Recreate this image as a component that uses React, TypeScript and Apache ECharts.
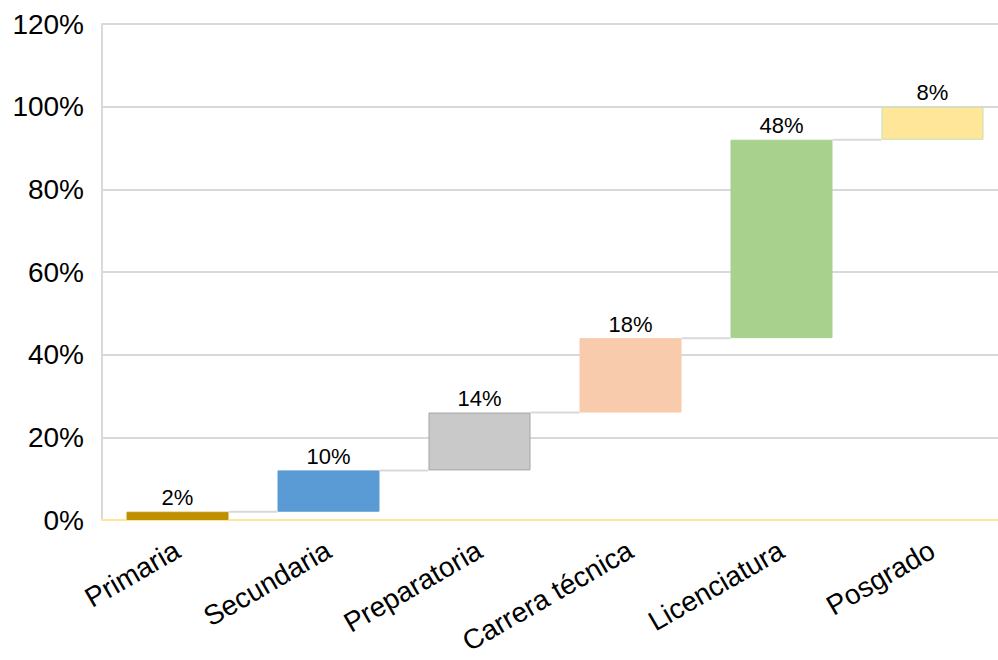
import React, { useEffect, useRef } from "react";
import * as echarts from "echarts";

const categories = ["Primaria", "Secundaria", "Preparatoria", "Carrera técnica", "Licenciatura", "Posgrado"];
const values = [2, 10, 14, 18, 48, 8];
const barColors = ["#BF9000", "#5B9BD5", "#C9C9C9", "#F8CBAD", "#A9D18E", "#FFE699"];
const barBorders = ["#BF9000", "#5B9BD5", "#A5A5A5", "#F8CBAD", "#A9D18E", "#C5E0B4"];
const yTicks = [0, 20, 40, 60, 80, 100, 120];

const FONT = "Liberation Sans, Arial, sans-serif";

export default function App() {
  const ref = useRef<HTMLDivElement>(null);
  useEffect(() => {
    document.body.style.margin = "0";
    document.body.style.overflow = "hidden";
    document.documentElement.style.overflow = "hidden";
    if (!ref.current) return;
    const chart = echarts.init(ref.current, undefined, { renderer: "svg" });
    const bases: number[] = [];
    const cum: number[] = [];
    let s = 0;
    values.forEach((v) => {
      bases.push(s);
      s += v;
      cum.push(s);
    });
    const BAR_W = 102;
    chart.setOption({
      animation: false,
      grid: { left: 102, top: 24, right: 2, bottom: 140, containLabel: false },
      xAxis: {
        type: "category",
        data: categories,
        axisLine: { show: true, lineStyle: { color: "#FFE699", width: 2 } },
        axisTick: { show: false },
        axisLabel: {
          rotate: 30,
          interval: 0,
          margin: 28,
          fontSize: 28,
          color: "#000",
          fontFamily: FONT,
        },
        splitLine: { show: false },
      },
      yAxis: {
        type: "value",
        min: yTicks[0],
        max: yTicks[yTicks.length - 1],
        interval: 20,
        axisLine: { show: true, lineStyle: { color: "#D9D9D9", width: 2 } },
        axisTick: { show: false },
        axisLabel: {
          formatter: "{value}%",
          fontSize: 28,
          color: "#000",
          margin: 18,
          fontFamily: FONT,
        },
        splitLine: { show: true, lineStyle: { color: "#D9D9D9", width: 2 } },
      },
      series: [
        {
          type: "custom",
          z: 1,
          data: cum.slice(0, -1).map((c, i) => [i, c]),
          renderItem: (params: any, api: any) => {
            const i = api.value(0);
            const c = api.value(1);
            const p1 = api.coord([i, c]);
            const p2 = api.coord([i + 1, c]);
            return {
              type: "line",
              shape: { x1: p1[0] + BAR_W / 2, y1: p1[1], x2: p2[0] - BAR_W / 2, y2: p2[1] },
              style: { stroke: "#D9D9D9", lineWidth: 2 },
            };
          },
          silent: true,
        },
        {
          type: "bar",
          stack: "w",
          barWidth: BAR_W,
          z: 2,
          itemStyle: { color: "transparent" },
          data: bases,
          silent: true,
        },
        {
          type: "bar",
          stack: "w",
          barWidth: BAR_W,
          z: 2,
          data: values.map((v, i) => ({
            value: v,
            itemStyle: { color: barColors[i], borderColor: barBorders[i], borderWidth: 1 },
          })),
          label: {
            show: true,
            position: "top",
            distance: 3,
            formatter: "{c}%",
            fontSize: 22,
            color: "#000",
            fontFamily: FONT,
          },
        },
      ],
    });
    return () => chart.dispose();
  }, []);
  return <div ref={ref} style={{ width: 1010, height: 660 }} />;
}
